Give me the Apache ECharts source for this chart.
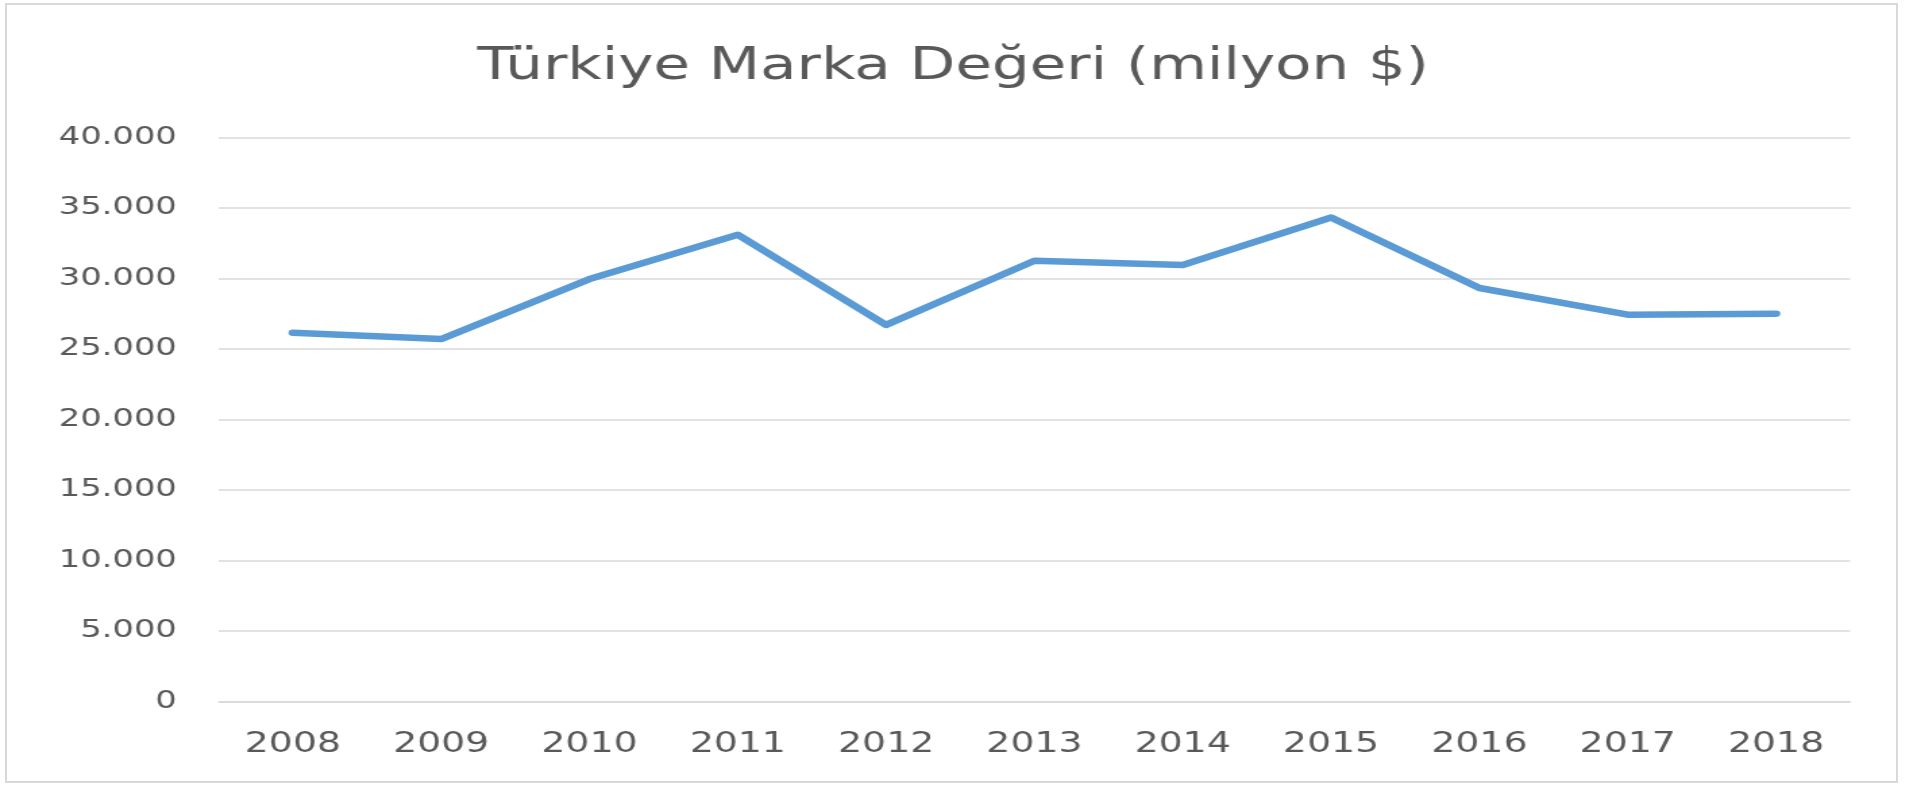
<!DOCTYPE html>
<html>
<head>
<meta charset="utf-8">
<script src="https://cdn.jsdelivr.net/npm/echarts@6/dist/echarts.min.js"></script>
<style>
  html, body { margin: 0; padding: 0; background: #ffffff; overflow: hidden; }
  #frame { position: absolute; left: 5px; top: 3px; width: 1893px; height: 780px; border: 2px solid #d9d9d9; box-sizing: border-box; }
  #chart { position: absolute; left: 0; top: 0; width: 1412px; height: 788px; transform: scaleX(1.35); transform-origin: 0 0; }
</style>
</head>
<body>
<div id="chart"></div>
<div id="frame"></div>
<script>
const titleText = 'Türkiye Marka Değeri (milyon $)';
const years = ['2008', '2009', '2010', '2011', '2012', '2013', '2014', '2015', '2016', '2017', '2018'];
const brandValues = [26150, 25700, 29950, 33100, 26700, 31250, 30950, 34320, 29320, 27430, 27500];
const yTicks = [0, 5000, 10000, 15000, 20000, 25000, 30000, 35000, 40000];

const chart = echarts.init(document.getElementById('chart'));
chart.setOption({
  backgroundColor: 'transparent',
  animation: false,
  title: {
    text: titleText,
    left: 'center',
    top: 41,
    textStyle: { fontFamily: 'DejaVu Sans', fontSize: 44, fontWeight: 'normal', color: '#595959' }
  },
  grid: { left: 162, right: 41.5, top: 137.4, bottom: 86.6, containLabel: false },
  xAxis: {
    type: 'category',
    data: years,
    boundaryGap: true,
    axisLine: { show: true, lineStyle: { color: '#d9d9d9', width: 1.5 } },
    axisTick: { show: false },
    axisLabel: { margin: 29, fontFamily: 'DejaVu Sans', fontSize: 28, color: '#595959' }
  },
  yAxis: {
    type: 'value',
    min: yTicks[0],
    max: yTicks[yTicks.length - 1],
    interval: yTicks[1] - yTicks[0],
    axisLine: { show: false },
    axisTick: { show: false },
    splitLine: { lineStyle: { color: '#d9d9d9', width: 1.5 } },
    axisLabel: {
      margin: 31,
      fontFamily: 'DejaVu Sans',
      fontSize: 25,
      color: '#595959',
      formatter: function (v) { return v === 0 ? '0' : v.toLocaleString('de-DE'); }
    }
  },
  series: [{
    type: 'line',
    data: brandValues,
    showSymbol: false,
    symbol: 'none',
    lineStyle: { color: '#5b9bd5', width: 6.5, cap: 'round', join: 'round' },
    itemStyle: { color: '#5b9bd5' }
  }]
});
</script>
</body>
</html>
